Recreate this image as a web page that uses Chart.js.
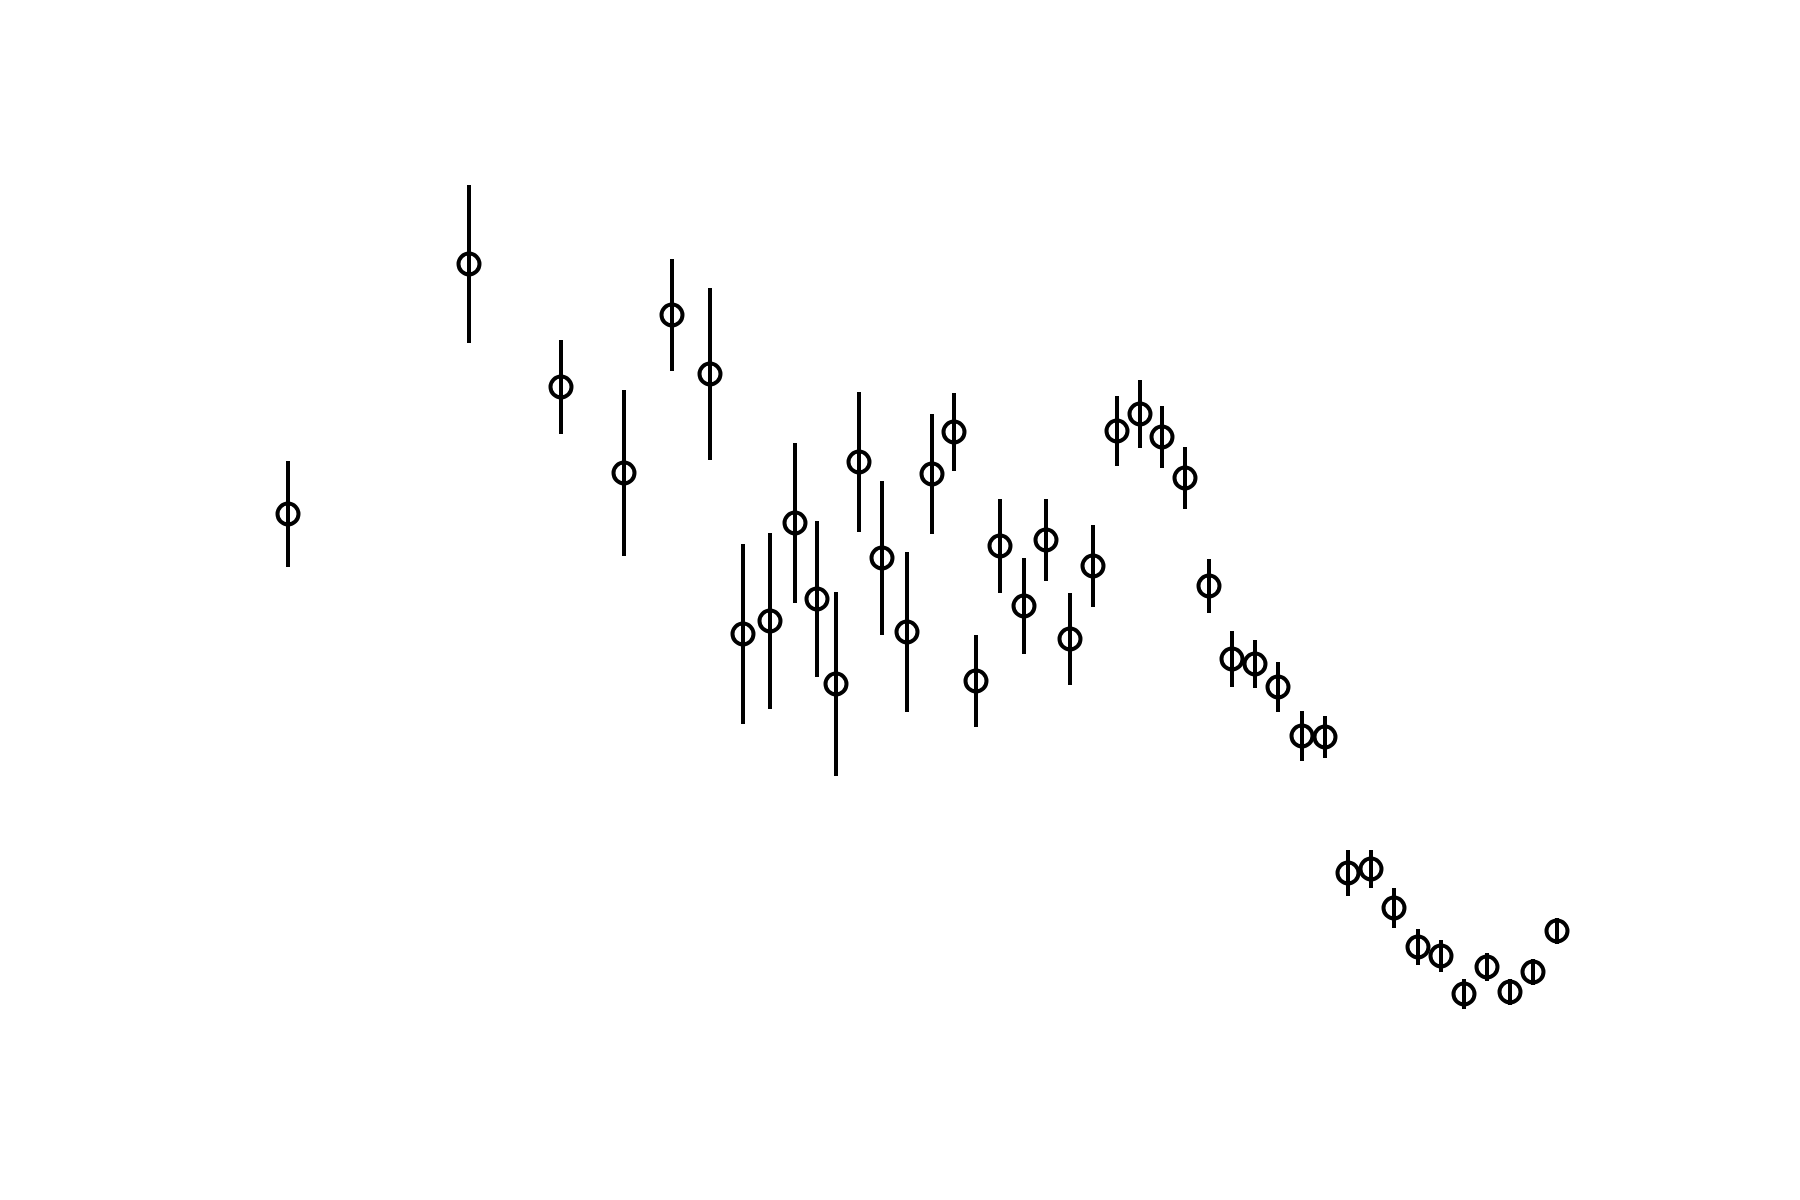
<!DOCTYPE html>
<html>
<head>
<meta charset="utf-8">
<script src="https://cdn.jsdelivr.net/npm/chart.js@4/dist/chart.umd.min.js"></script>
<style>
  html, body { margin: 0; padding: 0; background: #ffffff; }
  #wrap { width: 1800px; height: 1200px; }
</style>
</head>
<body>
<div id="wrap"><canvas id="c" width="1800" height="1200"></canvas></div>
<script>
const xValues = [28.8, 46.9, 56.1, 62.4, 67.2, 71.0, 74.3, 77.0, 79.5, 81.7, 83.6, 85.9, 88.2, 90.7, 93.2, 95.4, 97.6, 100.0, 102.4, 104.6, 107.0, 109.3, 111.7, 114.0, 116.2, 118.5, 120.9, 123.2, 125.5, 127.8, 130.2, 132.5, 134.8, 137.1, 139.4, 141.8, 144.1, 146.4, 148.7, 151.0, 153.3, 155.7];
const yValues = [68.6, 93.6, 81.3, 72.7, 88.5, 82.6, 56.6, 57.9, 67.7, 60.1, 51.6, 73.8, 64.2, 56.8, 72.6, 76.8, 51.9, 65.4, 59.4, 66.0, 56.1, 63.4, 76.9, 78.6, 76.3, 72.2, 61.4, 54.1, 53.6, 51.3, 46.4, 46.3, 32.7, 33.1, 29.2, 25.3, 24.4, 20.6, 23.3, 20.8, 22.8, 26.9];
const yErrors = [5.3, 7.9, 4.7, 8.3, 5.6, 8.6, 9.0, 8.8, 8.0, 7.8, 9.2, 7.0, 7.7, 8.0, 6.0, 3.9, 4.6, 4.7, 4.8, 4.1, 4.6, 4.1, 3.5, 3.4, 3.1, 3.1, 2.7, 2.8, 2.4, 2.5, 2.5, 2.1, 2.3, 1.9, 2.0, 1.8, 1.6, 1.5, 1.4, 1.3, 1.3, 1.3];

const points = xValues.map((x, i) => ({ x: x, y: yValues[i] }));
const bars = [];
xValues.forEach((x, i) => {
  bars.push({ x: x, y: yValues[i] - yErrors[i] });
  bars.push({ x: x, y: yValues[i] + yErrors[i] });
  bars.push({ x: x, y: null });
});

new Chart(document.getElementById('c'), {
  type: 'scatter',
  data: {
    datasets: [
      {
        type: 'line',
        data: bars,
        borderColor: '#000000',
        borderWidth: 4,
        borderCapStyle: 'butt',
        pointRadius: 0,
        showLine: true,
        spanGaps: false,
        fill: false,
        clip: false,
        order: 2
      },
      {
        type: 'scatter',
        data: points,
        pointStyle: 'circle',
        pointRadius: 10.5,
        borderWidth: 4,
        borderColor: '#000000',
        backgroundColor: 'rgba(0,0,0,0)',
        clip: false,
        order: 1
      }
    ]
  },
  options: {
    responsive: false,
    animation: false,
    devicePixelRatio: 1,
    layout: { padding: 0, autoPadding: false },
    plugins: { legend: { display: false }, tooltip: { enabled: false } },
    scales: {
      x: { type: 'linear', min: 0, max: 180, display: false },
      y: { type: 'linear', min: 0, max: 120, display: false }
    }
  }
});
</script>
</body>
</html>
